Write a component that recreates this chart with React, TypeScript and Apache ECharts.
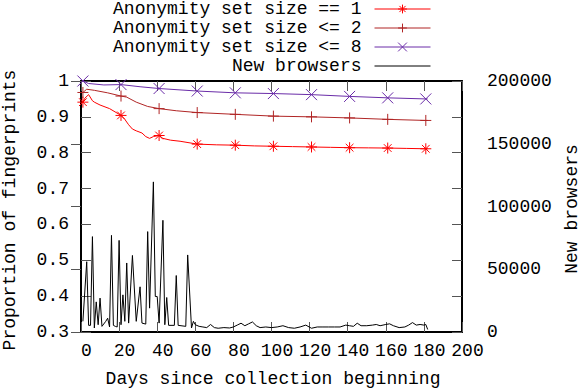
import React, { useEffect, useRef } from "react";
import * as echarts from "echarts";

// ---- data ----
const markerDays = [1, 21, 41, 61, 81, 101, 121, 141, 161, 181];

const eq1Days = [1, 2, 4, 6, 7, 10, 15, 21, 23, 25, 27, 29, 32, 34, 36, 38, 41, 43, 47, 52, 61, 71, 81, 91, 101, 111, 121, 131, 141, 151, 161, 171, 181, 182];
const eq1Vals = [0.941, 0.952, 0.962, 0.945, 0.941, 0.933, 0.923, 0.904, 0.893, 0.878, 0.866, 0.861, 0.855, 0.845, 0.84, 0.845, 0.848, 0.84, 0.835, 0.832, 0.824, 0.822, 0.821, 0.819, 0.818, 0.817, 0.816, 0.815, 0.814, 0.8135, 0.813, 0.812, 0.811, 0.811];

const le2Days = [1, 3, 7, 14, 21, 24, 29, 35, 41, 50, 61, 81, 101, 121, 141, 161, 181, 182];
const le2Vals = [0.968, 0.977, 0.974, 0.967, 0.958, 0.955, 0.941, 0.929, 0.923, 0.917, 0.912, 0.907, 0.902, 0.9, 0.897, 0.893, 0.89, 0.89];

const le8Days = [1, 4, 12, 21, 31, 41, 61, 81, 101, 121, 141, 161, 181, 182];
const le8Vals = [1.0, 0.993, 0.989, 0.99, 0.984, 0.979, 0.972, 0.967, 0.965, 0.962, 0.957, 0.953, 0.95, 0.95];

const newDays = [1, 3, 4, 5, 6, 7, 8, 9, 10, 11, 13, 14, 15, 16, 17, 18, 19, 20, 21, 22, 23, 24, 25, 27, 29, 31, 32, 34, 35, 36, 38, 39, 40, 41, 43, 44, 45, 46, 49, 50, 51, 55, 56, 58, 59, 60, 62, 64, 66, 68, 70, 72, 75, 78, 80, 82, 84, 86, 88, 90, 92, 94, 97, 100, 103, 106, 109, 112, 115, 118, 121, 124, 127, 130, 133, 136, 139, 141, 143, 145, 147, 150, 153, 155, 157, 160, 162, 164, 167, 170, 172, 174, 176, 178, 180, 181, 182];
const newVals = [8500, 56000, 5300, 5300, 76000, 3200, 24000, 5800, 27000, 4500, 8500, 11000, 4000, 77000, 5300, 4500, 4000, 73000, 5800, 29600, 8500, 55000, 7100, 61000, 8500, 36000, 7100, 6300, 80000, 19000, 119600, 28300, 28300, 7100, 89000, 5800, 27500, 5300, 5300, 45000, 5300, 4500, 61400, 3200, 8500, 5800, 4500, 4000, 3500, 6000, 3500, 3000, 3500, 3200, 4000, 5500, 7000, 5000, 6500, 8000, 5000, 3500, 4000, 3500, 4000, 5000, 3500, 3000, 4000, 5500, 3000, 4000, 4000, 4000, 4000, 4000, 5500, 5000, 4500, 7000, 5000, 5000, 5500, 6000, 5000, 6000, 6500, 5000, 3500, 4000, 5500, 7500, 5500, 6000, 5500, 6000, 2000];

const xTickMin = 0;
const xTickMax = 200;
const xTickStep = 20;
const yLeftMin = 0.3;
const yLeftMax = 1;
const yLeftStep = 0.1;
const yRightMin = 0;
const yRightMax = 200000;
const yRightStep = 50000;

const names = [
  "Anonymity set size == 1",
  "Anonymity set size <= 2",
  "Anonymity set size <= 8",
  "New browsers",
];
const colors = ["#ff0000", "#b02525", "#6a2ca8", "#000000"];

const FONT = "Liberation Mono";

const STAR = "path://M0,5L10,5M5,0L5,10M1.5,1.5L8.5,8.5M8.5,1.5L1.5,8.5";
const PLUS = "path://M0,5L10,5M5,0L5,10";
const CROSS = "path://M0,0L10,10M10,0L0,10";

function build(days: number[], vals: number[]) {
  return days.map((d, i) =>
    markerDays.includes(d)
      ? { value: [d, vals[i]] }
      : { value: [d, vals[i]], symbol: "none" }
  );
}

export default function App() {
  const ref = useRef<HTMLDivElement>(null);
  useEffect(() => {
    if (!ref.current) return;
    document.body.style.margin = "0";
    const chart = echarts.init(ref.current, undefined, { renderer: "svg" });
    const textStyle = { fontFamily: FONT, fontSize: 18, color: "#000" };
    const tickStyle = { color: "#555", width: 1 };
    const lineAxis = { lineStyle: { color: "#000", width: 2 } };
    const rowCenters = [8, 27, 46, 65];
    const legendOf = (i: number) => ({
      data: [
        {
          name: names[i],
          itemStyle:
            i === 3
              ? { opacity: 0 }
              : { color: "none", borderColor: colors[i], borderWidth: 1 },
          lineStyle: { color: colors[i], width: 1 },
        },
      ],
      top: rowCenters[i] - 8,
      right: 151,
      align: "right",
      orient: "horizontal",
      itemWidth: 56,
      itemHeight: 11,
      padding: 0,
      itemGap: 0,
      selectedMode: false,
      lineStyle: { width: 1 },
      textStyle: { ...textStyle, lineHeight: 16, padding: [0, 8, 0, 0] },
    });
    const lineSeries = (i: number, symbol: string, days: number[], vals: number[]) => ({
      name: names[i],
      type: "line",
      xAxisIndex: 0,
      yAxisIndex: 0,
      data: build(days, vals),
      symbol,
      symbolSize: 11,
      showAllSymbol: true,
      lineStyle: { color: colors[i], width: 1 },
      itemStyle: { color: "none", borderColor: colors[i], borderWidth: 1 },
      emphasis: { disabled: true },
      z: 2 + i,
    });
    chart.setOption({
      animation: false,
      grid: { left: 81, right: 120, top: 81, bottom: 57, containLabel: false },
      legend: [legendOf(0), legendOf(1), legendOf(2), legendOf(3)],
      xAxis: [
        {
          type: "value",
          position: "bottom",
          min: xTickMin,
          max: xTickMax,
          interval: xTickStep,
          axisLine: lineAxis,
          axisTick: { inside: true, length: 10, lineStyle: tickStyle },
          axisLabel: { ...textStyle, margin: 10, padding: [0, 0, 0, 11] },
          splitLine: { show: false },
        },
        {
          type: "value",
          position: "top",
          min: xTickMin,
          max: xTickMax,
          interval: xTickStep,
          axisLine: lineAxis,
          axisTick: { inside: true, length: 10, lineStyle: tickStyle },
          axisLabel: { show: false },
          splitLine: { show: false },
        },
      ],
      yAxis: [
        {
          type: "value",
          position: "left",
          min: yLeftMin,
          max: yLeftMax,
          interval: yLeftStep,
          axisLine: { show: true, ...lineAxis },
          axisTick: { show: true, inside: true, length: 10, lineStyle: tickStyle },
          axisLabel: {
            ...textStyle,
            margin: 12,
            formatter: (v: number) => (Math.abs(v - 1) < 1e-9 ? "1" : v.toFixed(1)),
          },
          splitLine: { show: false },
        },
        {
          type: "value",
          position: "right",
          min: yRightMin,
          max: yRightMax,
          interval: yRightStep,
          axisLine: { show: true, ...lineAxis },
          axisTick: { show: true, inside: true, length: 10, lineStyle: tickStyle },
          axisLabel: {
            ...textStyle,
            margin: 25,
            align: "left",
            formatter: (v: number) => String(Math.round(v)),
          },
          splitLine: { show: false },
        },
        {
          type: "value",
          position: "right",
          min: yLeftMin,
          max: yLeftMax,
          interval: yLeftStep,
          axisLine: { show: true, ...lineAxis },
          axisTick: { show: true, inside: true, length: 10, lineStyle: tickStyle },
          axisLabel: { show: false },
          splitLine: { show: false },
        },
      ],
      series: [
        lineSeries(0, STAR, eq1Days, eq1Vals),
        lineSeries(1, PLUS, le2Days, le2Vals),
        lineSeries(2, CROSS, le8Days, le8Vals),
        {
          name: names[3],
          type: "line",
          xAxisIndex: 0,
          yAxisIndex: 1,
          data: newDays.map((d, i) => [d, newVals[i]]),
          symbol: "none",
          symbolSize: 0,
          lineStyle: { color: colors[3], width: 1 },
          itemStyle: { color: colors[3] },
          emphasis: { disabled: true },
          z: 6,
        },
      ],
      graphic: [
        {
          type: "text",
          x: 273,
          y: 379,
          style: {
            text: "Days since collection beginning",
            font: `18px "${FONT}"`,
            fill: "#000",
            align: "center",
            verticalAlign: "middle",
          },
        },
        {
          type: "text",
          x: 10,
          y: 210,
          rotation: Math.PI / 2,
          style: {
            text: "Proportion of fingerprints",
            font: `18px "${FONT}"`,
            fill: "#000",
            align: "center",
            verticalAlign: "middle",
          },
        },
        {
          type: "text",
          x: 572,
          y: 209,
          rotation: Math.PI / 2,
          style: {
            text: "New browsers",
            font: `18px "${FONT}"`,
            fill: "#000",
            align: "center",
            verticalAlign: "middle",
          },
        },
      ],
    });
    return () => chart.dispose();
  }, []);
  return <div ref={ref} style={{ width: 582, height: 389 }} />;
}
